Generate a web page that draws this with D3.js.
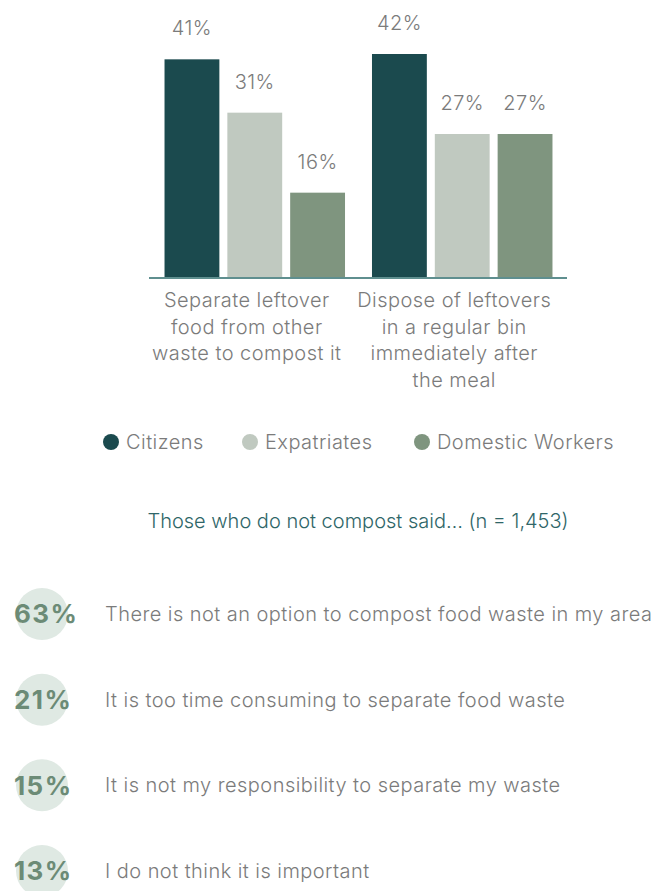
<!DOCTYPE html>
<html>
<head>
<meta charset="utf-8">
<script src="https://cdn.jsdelivr.net/npm/d3@7"></script>
<style>
  html, body { margin: 0; padding: 0; background: #ffffff; }
  svg { display: block; }
  text { font-family: Inter, "Open Sans", sans-serif; }
  .light { font-weight: 300; font-size: 20px; letter-spacing: 0.45px; }
</style>
</head>
<body>
<svg id="chart" width="655" height="891"></svg>
<script>
// Composting behaviour by respondent group
const categories = [
  ["Separate leftover", "food from other", "waste to compost it"],
  ["Dispose of leftovers", "in a regular bin", "immediately after", "the meal"]
];
const seriesNames = ["Citizens", "Expatriates", "Domestic Workers"];
const citizens = [41, 42];
const expatriates = [31, 27];
const domesticWorkers = [16, 27];
const seriesColors = ["#1b4a4e", "#c0c9c0", "#7f957f"];

// Reasons given by those who do not compost
const subtitle = "Those who do not compost said\u2026 (n = 1,453)";
const reasonShares = [63, 21, 15, 13];
const reasonTexts = [
  "There is not an option to compost food waste in my area",
  "It is too time consuming to separate food waste",
  "It is not my responsibility to separate my waste",
  "I do not think it is important"
];

const seriesValues = [citizens, expatriates, domesticWorkers];
const table = categories.map((c, i) => ({
  label: c,
  values: seriesNames.map((s, j) => ({ series: s, idx: j, value: seriesValues[j][i] }))
}));

const svg = d3.select("#chart");
const grey = "#7b7b7b";

// Grouped bar chart
const x0 = d3.scaleBand()
  .domain(d3.range(categories.length))
  .range([150, 567])
  .paddingInner(0.13)
  .paddingOuter(0.07);
const x1 = d3.scaleBand()
  .domain(d3.range(seriesNames.length))
  .range([0, x0.bandwidth()])
  .paddingInner(0.127);
const y = d3.scaleLinear().domain([0, 45]).range([278, 38]);

const groups = svg.append("g").selectAll("g")
  .data(table)
  .join("g")
  .attr("transform", (d, i) => `translate(${x0(i)},0)`);

groups.selectAll("rect")
  .data(d => d.values)
  .join("rect")
  .attr("x", d => x1(d.idx))
  .attr("y", d => y(d.value))
  .attr("width", x1.bandwidth())
  .attr("height", d => y(0) - y(d.value))
  .attr("fill", d => seriesColors[d.idx]);

groups.selectAll("text.val")
  .data(d => d.values)
  .join("text")
  .attr("class", "val light")
  .attr("x", d => x1(d.idx) + x1.bandwidth() / 2)
  .attr("y", d => y(d.value) - 24)
  .attr("text-anchor", "middle")
  .attr("fill", grey)
  .text(d => d.value + "%");

// Baseline axis
const axis = svg.append("g")
  .attr("transform", `translate(0,${y(0)})`)
  .call(d3.axisBottom(x0).tickSize(0).tickFormat(""));
axis.select(".domain").attr("stroke", "#5f8f8f").attr("stroke-width", 2)
  .attr("d", "M149,0H567");

// Category labels
groups.append("text")
  .attr("class", "light")
  .attr("x", x0.bandwidth() / 2 - 8)
  .attr("y", 307)
  .attr("text-anchor", "middle")
  .attr("fill", grey)
  .selectAll("tspan")
  .data(d => d.label)
  .join("tspan")
  .attr("x", x0.bandwidth() / 2 - 8)
  .attr("dy", (d, i) => i === 0 ? 0 : 26.5)
  .text(d => d);

// Legend
const legendX = [111, 250, 422];
const legend = svg.append("g").selectAll("g")
  .data(seriesNames)
  .join("g")
  .attr("transform", (d, i) => `translate(${legendX[i]},442)`);
legend.append("circle").attr("r", 8).attr("fill", (d, i) => seriesColors[i]);
legend.append("text")
  .attr("class", "light")
  .attr("x", 15)
  .attr("dy", "0.35em")
  .attr("fill", grey)
  .text(d => d);

// Subtitle
svg.append("text")
  .attr("class", "light")
  .attr("x", 358)
  .attr("y", 528)
  .attr("text-anchor", "middle")
  .style("letter-spacing", "0px")
  .attr("fill", "#2f6668")
  .text(subtitle);

// Reason list
const rowY = d3.scalePoint().domain(d3.range(reasonShares.length)).range([614, 871]);
const rows = svg.append("g").selectAll("g")
  .data(reasonShares)
  .join("g")
  .attr("transform", (d, i) => `translate(0,${rowY(i)})`);
rows.append("circle")
  .attr("cx", 42)
  .attr("r", 26)
  .attr("fill", "#dfe9e3");
rows.append("text")
  .attr("x", 14)
  .attr("dy", "0.36em")
  .attr("font-size", 26)
  .attr("font-weight", 700)
  .attr("letter-spacing", 1.4)
  .attr("fill", "#6c8b76")
  .text(d => d + "%");
rows.append("text")
  .attr("class", "light")
  .attr("x", 105)
  .attr("dy", "0.35em")
  .attr("fill", grey)
  .text((d, i) => reasonTexts[i]);
</script>
</body>
</html>
